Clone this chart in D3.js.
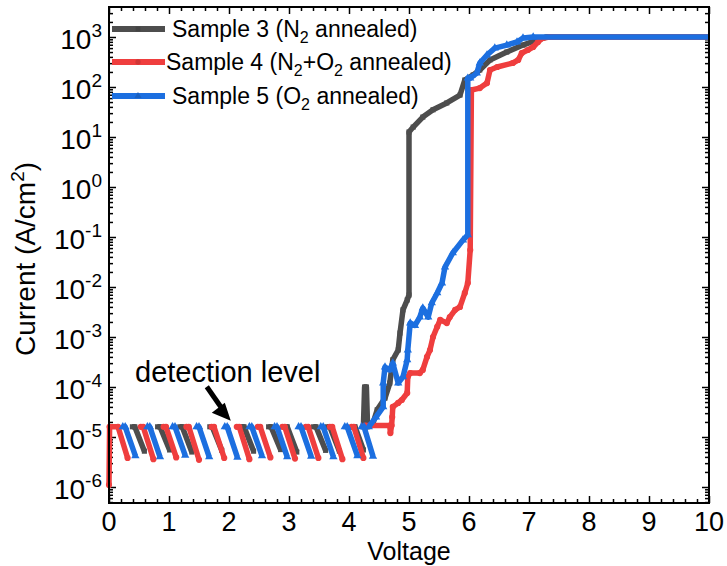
<!DOCTYPE html>
<html>
<head>
<meta charset="utf-8">
<script src="https://cdn.jsdelivr.net/npm/d3@7"></script>
<style>
  body { margin: 0; background: #fff; }
  text { font-family: "Liberation Sans", Arial, sans-serif; fill: #000; }
</style>
</head>
<body>
<div id="chart"></div>
<script>
// Tick labels
const xTicks = [0, 1, 2, 3, 4, 5, 6, 7, 8, 9, 10];
const yExponents = [-6, -5, -4, -3, -2, -1, 0, 1, 2, 3];

// Series colours
const seriesColors = ["#4d4d4d", "#ef3e3e", "#1c6fe0"];

// Low voltage sawtooth, one list of [V, J] points per tooth
const sample3Teeth = [
  [[0.39, 1.6e-5], [0.43, 1.6e-5], [0.59, 5.2e-6]],
  [[0.81, 1.6e-5], [0.85, 1.6e-5], [1.01, 5.5e-6]],
  [[1.18, 1.6e-5], [1.22, 1.6e-5], [1.38, 5.0e-6]],
  [[1.68, 1.6e-5], [1.72, 1.6e-5], [1.88, 5.4e-6]],
  [[2.21, 1.6e-5], [2.25, 1.6e-5], [2.41, 5.2e-6]],
  [[2.66, 1.6e-5], [2.70, 1.6e-5], [2.86, 5.6e-6]],
  [[2.93, 1.6e-5], [2.97, 1.6e-5], [3.13, 5.0e-6]],
  [[3.41, 1.6e-5], [3.45, 1.6e-5], [3.61, 5.4e-6]],
  [[3.64, 1.6e-5], [3.68, 1.6e-5], [3.84, 5.2e-6]],
  [[4.06, 1.6e-5], [4.10, 1.6e-5], [4.24, 5.5e-6]]
];
const sample4Teeth = [
  [[0.00, 1.1e-6], [0.01, 1.6e-5], [0.15, 1.6e-5], [0.31, 3.8e-6]],
  [[0.53, 1.6e-5], [0.57, 1.6e-5], [0.74, 3.6e-6]],
  [[0.91, 1.6e-5], [0.95, 1.6e-5], [1.12, 3.9e-6]],
  [[1.29, 1.6e-5], [1.33, 1.6e-5], [1.50, 3.5e-6]],
  [[1.71, 1.6e-5], [1.75, 1.6e-5], [1.92, 3.8e-6]],
  [[2.13, 1.6e-5], [2.17, 1.6e-5], [2.34, 3.6e-6]],
  [[2.48, 1.6e-5], [2.52, 1.6e-5], [2.69, 3.9e-6]],
  [[2.89, 1.6e-5], [2.93, 1.6e-5], [3.10, 3.7e-6]],
  [[3.28, 1.6e-5], [3.32, 1.6e-5], [3.49, 3.8e-6]],
  [[3.68, 1.6e-5], [3.72, 1.6e-5], [3.89, 3.6e-6]],
  [[4.04, 1.6e-5], [4.08, 1.6e-5], [4.24, 3.8e-6]]
];
const sample5Teeth = [
  [[0.23, 1.6e-5], [0.27, 1.6e-5], [0.44, 4.2e-6]],
  [[0.64, 1.6e-5], [0.68, 1.6e-5], [0.85, 4.0e-6]],
  [[1.06, 1.6e-5], [1.10, 1.6e-5], [1.27, 4.3e-6]],
  [[1.46, 1.6e-5], [1.50, 1.6e-5], [1.67, 4.0e-6]],
  [[1.93, 1.6e-5], [1.97, 1.6e-5], [2.14, 3.9e-6]],
  [[2.34, 1.6e-5], [2.38, 1.6e-5], [2.55, 4.2e-6]],
  [[2.76, 1.6e-5], [2.80, 1.6e-5], [2.97, 4.0e-6]],
  [[3.16, 1.6e-5], [3.20, 1.6e-5], [3.37, 4.1e-6]],
  [[3.53, 1.6e-5], [3.57, 1.6e-5], [3.74, 4.0e-6]],
  [[3.93, 1.6e-5], [3.97, 1.6e-5], [4.14, 4.2e-6]],
  [[4.21, 1.6e-5], [4.25, 1.6e-5], [4.40, 4.1e-6]]
];

// Switching part of each sweep, [V, J]
const sample3Rise = [[4.24, 1.6e-5], [4.26, 1.0e-4], [4.29, 1.0e-4], [4.31, 1.6e-5], [4.40, 1.9e-5],
  [4.47, 3.5e-5], [4.60, 6e-5], [4.68, 1.2e-4], [4.73, 3.5e-4], [4.82, 5.5e-4], [4.85, 1.2e-3],
  [4.90, 3.5e-3], [4.97, 5.5e-3], [5.00, 6.9e-3], [5.00, 12.6], [5.07, 15.8], [5.23, 25], [5.40, 35],
  [5.63, 48], [5.85, 69], [5.93, 138], [6.07, 174], [6.18, 219], [6.35, 347], [6.63, 500],
  [6.90, 690], [7.13, 870], [7.30, 1000], [10, 1000]];
const sample4Rise = [[4.27, 1.7e-5], [4.68, 1.7e-5], [4.69, 1.2e-5], [4.71, 1.7e-5], [4.72, 2.5e-5],
  [4.73, 4e-5], [4.82, 4.8e-5], [4.88, 5.5e-5], [4.97, 7.6e-5], [4.98, 1.6e-4], [5.02, 1.9e-4],
  [5.18, 1.9e-4], [5.23, 2.2e-4], [5.30, 4e-4], [5.35, 5.5e-4], [5.40, 1e-3], [5.47, 1.6e-3],
  [5.52, 2.2e-3], [5.63, 1.9e-3], [5.68, 2.5e-3], [5.77, 3.5e-3], [5.85, 4e-3], [5.93, 7.6e-3],
  [5.98, 1.2e-2], [6.02, 5.5e-2], [6.04, 87], [6.18, 95], [6.30, 120], [6.35, 219], [6.47, 251],
  [6.73, 302], [6.82, 347], [6.88, 479], [6.98, 550], [7.07, 631], [7.15, 794], [7.23, 955],
  [7.35, 1000], [10, 1000]];
const sample5Rise = [[4.33, 1.6e-5], [4.45, 2.5e-5], [4.57, 4e-5], [4.57, 1.2e-4], [4.60, 2.5e-4],
  [4.68, 2.2e-4], [4.73, 3e-4], [4.82, 1.2e-4], [4.90, 1.6e-4], [4.97, 3.5e-4], [4.98, 5.5e-4],
  [5.02, 1.9e-3], [5.10, 1.7e-3], [5.18, 2.5e-3], [5.23, 3.8e-3], [5.32, 2.5e-3], [5.38, 4.8e-3],
  [5.47, 7.6e-3], [5.55, 1.2e-2], [5.60, 2.5e-2], [5.73, 4.8e-2], [5.90, 8.7e-2], [5.98, 0.11],
  [5.98, 150], [6.02, 150], [6.13, 190], [6.18, 300], [6.30, 436], [6.43, 600], [6.63, 690],
  [6.80, 794], [6.90, 955], [7.07, 1000], [10, 1000]];

const series = [
  { teeth: sample3Teeth, rise: sample3Rise, color: seriesColors[0], symbol: d3.symbolSquare, size: 26 },
  { teeth: sample4Teeth, rise: sample4Rise, color: seriesColors[1], symbol: d3.symbolCircle, size: 30 },
  { teeth: sample5Teeth, rise: sample5Rise, color: seriesColors[2], symbol: d3.symbolTriangle, size: 30 }
];

// Layout
const W = 727, H = 566;
const margin = { top: 7, right: 18, bottom: 63, left: 109 };
const width = W - margin.left - margin.right;
const height = H - margin.top - margin.bottom;

const svg = d3.select("#chart").append("svg")
    .attr("width", W)
    .attr("height", H);

const g = svg.append("g")
    .attr("transform", `translate(${margin.left},${margin.top})`);

const x = d3.scaleLinear().domain([0, 10]).range([0, width]);
const y = d3.scaleLog().domain([Math.pow(10, -6.32), Math.pow(10, 3.6)]).range([height, 0]);

// minor ticks
const xMinor = d3.range(0, 10.001, 0.2).map(v => +v.toFixed(1)).filter(v => !xTicks.includes(v));
const yMinor = [];
for (let k = -7; k <= 3; k++) {
    for (let m = 2; m <= 9; m++) {
        const v = m * Math.pow(10, k);
        if (v >= y.domain()[0] && v <= y.domain()[1]) yMinor.push(v);
    }
}
const yMajor = yExponents.map(e => Math.pow(10, e));

// ticks on all four sides, pointing inward
const sides = [
    [d3.axisBottom, x, `translate(0,${height})`, xTicks, xMinor],
    [d3.axisTop, x, null, xTicks, xMinor],
    [d3.axisLeft, y, null, yMajor, yMinor],
    [d3.axisRight, y, `translate(${width},0)`, yMajor, yMinor]
];
sides.forEach(([axisFn, scale, tr, major, minor]) => {
    [[major, -7], [minor, -4]].forEach(([vals, size]) => {
        const a = g.append("g")
            .call(axisFn(scale).tickValues(vals).tickSize(size).tickFormat(""));
        if (tr) a.attr("transform", tr);
        a.select(".domain").remove();
        a.selectAll("line").attr("stroke", "#000").attr("stroke-width", 1.5);
    });
});

// Data lines
const line = d3.line()
    .x(d => x(d[0]))
    .y(d => y(d[1]));

series.forEach(s => {
    const sg = g.append("g");
    s.teeth.concat([s.rise]).forEach(pts => {
        sg.append("path")
            .datum(pts)
            .attr("fill", "none")
            .attr("stroke", s.color)
            .attr("stroke-width", 5.5)
            .attr("stroke-linejoin", "round")
            .attr("d", line);
        sg.selectAll(null)
            .data(pts.filter(d => d[0] < 7.5))
            .enter().append("path")
            .attr("transform", d => `translate(${x(d[0])},${y(d[1])})`)
            .attr("d", d3.symbol().type(s.symbol).size(s.size))
            .attr("fill", s.color);
    });
});

// Frame
g.append("rect")
    .attr("width", width)
    .attr("height", height)
    .attr("fill", "none")
    .attr("stroke", "#000")
    .attr("stroke-width", 2);

// Tick labels
g.selectAll(".xlab")
    .data(xTicks)
    .enter().append("text")
    .attr("x", d => x(d))
    .attr("y", height + 28)
    .attr("text-anchor", "middle")
    .style("font-size", "27px")
    .text(d => d);

const ylab = g.selectAll(".ylab")
    .data(yExponents)
    .enter().append("text")
    .attr("x", -7)
    .attr("y", d => y(Math.pow(10, d)) + 12)
    .attr("text-anchor", "end")
    .style("font-size", "28px");
ylab.append("tspan").text("10");
ylab.append("tspan")
    .attr("dy", -12)
    .style("font-size", "19px")
    .text(d => d);

// Axis titles
svg.append("text")
    .attr("x", margin.left + width / 2)
    .attr("y", H - 6)
    .attr("text-anchor", "middle")
    .style("font-size", "25px")
    .text("Voltage");

const yTitle = svg.append("text")
    .attr("transform", `translate(35,${margin.top + 252}) rotate(-90)`)
    .attr("text-anchor", "middle")
    .style("font-size", "28px");
yTitle.append("tspan").text("Current (A/cm");
yTitle.append("tspan").attr("dy", -11).style("font-size", "19px").text("2");
yTitle.append("tspan").attr("dy", 11).text(")");

// Legend
const legendRows = [
    { y: 29, tx: 172, parts: [["Sample 3 (N", 0], ["2", 1], [" annealed)", 0]] },
    { y: 62, tx: 166, parts: [["Sample 4 (N", 0], ["2", 1], ["+O", 0], ["2", 1], [" annealed)", 0]] },
    { y: 96, tx: 172, parts: [["Sample 5 (O", 0], ["2", 1], [" annealed)", 0]] }
];
legendRows.forEach((row, i) => {
    svg.append("line")
        .attr("x1", 112).attr("x2", 165)
        .attr("y1", row.y).attr("y2", row.y)
        .attr("stroke", seriesColors[i])
        .attr("stroke-width", 6);
    svg.append("path")
        .attr("transform", `translate(138,${row.y})`)
        .attr("d", d3.symbol().type(series[i].symbol).size(22))
        .attr("fill", d3.color(seriesColors[i]).darker(0.4));
    const t = svg.append("text")
        .attr("x", row.tx)
        .attr("y", row.y + 8)
        .style("font-size", "23px");
    let sub = 0;
    row.parts.forEach(([s, isSub]) => {
        const dy = isSub ? 6 : (sub ? -6 : 0);
        t.append("tspan")
            .attr("dy", dy)
            .style("font-size", isSub ? "16px" : "23px")
            .text(s);
        sub = isSub;
    });
});

// detection level annotation
const tipX = margin.left + x(2.03), tipY = margin.top + y(1.6e-5) - 6;
svg.append("text")
    .attr("x", 135)
    .attr("y", 382)
    .style("font-size", "29px")
    .text("detection level");
svg.append("line")
    .attr("x1", tipX - 24).attr("y1", tipY - 34)
    .attr("x2", tipX - 8).attr("y2", tipY - 11)
    .attr("stroke", "#000")
    .attr("stroke-width", 5);
svg.append("path")
    .attr("d", `M${tipX},${tipY} L${tipX - 19},${tipY - 8} L${tipX - 6},${tipY - 18} Z`)
    .attr("fill", "#000");
</script>
</body>
</html>
